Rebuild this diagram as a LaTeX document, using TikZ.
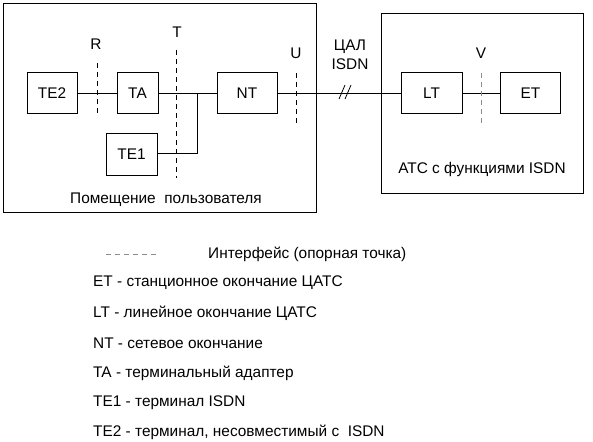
\documentclass[tikz,border=0pt]{standalone}
\usepackage{fontspec}
\setmainfont{Liberation Sans}
\begin{document}
\begin{tikzpicture}[x=1pt,y=-1pt,
  box/.style={draw,line width=0.8pt,minimum width=#1,minimum height=41pt,inner sep=0pt,font=\fontsize{15.4}{18}\selectfont},
  box/.default=50pt,
  area/.style={draw,line width=0.8pt},
  wire/.style={line width=0.8pt},
  ifc/.style={line width=0.8pt,dash pattern=on 5pt off 4pt},
  ifcg/.style={ifc,draw=gray!90},
  lbl/.style={font=\fontsize{15.4}{18}\selectfont,inner sep=0pt},
  leg/.style={lbl,anchor=west}]
\useasboundingbox (0,0) rectangle (593,441);
% enclosures
\draw[area] (3,3) rectangle (316,212);
\draw[area] (381,13) rectangle (583,193);
% boxes
\node[box=50pt] (te2) at (52,93) {TE2};
\node[box=41pt] (ta) at (137.5,93) {TA};
\node[box=60pt] (nt) at (247,93) {NT};
\node[box=51pt,minimum height=42pt] (te1) at (131.5,154) {TE1};
\node[box=61pt] (lt) at (431.5,93) {LT};
\node[box=60pt] (et) at (530.5,93) {ET};
% connectors
\coordinate (j) at (197,93);
\coordinate (jb) at (197,153);
\draw[wire] (te2) -- (ta);
\draw[wire] (ta) -- (nt);
\draw[wire] (te1.east |- jb) -- (jb) -- (j);
\draw[wire] (nt) -- (lt);
\draw[wire] (lt) -- (et);
% slashes on the line
\coordinate (s1) at (342,92);
\coordinate (s2) at (348,92);
\draw[wire] ([shift={(-3,7)}]s1) -- ([shift={(3,-7)}]s1);
\draw[wire] ([shift={(-3,7)}]s2) -- ([shift={(3,-7)}]s2);
% interfaces
\coordinate (r1) at (97,63); \coordinate (r2) at (97,114);
\coordinate (t1) at (176,50); \coordinate (t2) at (176,178);
\coordinate (u1) at (296,73); \coordinate (u2) at (296,124);
\coordinate (v1) at (481,73); \coordinate (v2) at (481,124);
\draw[ifc] (r1) -- (r2);
\draw[ifc] (t1) -- (t2);
\draw[ifc] (u1) -- (u2);
\draw[ifcg] (v1) -- (v2);
\node[lbl] (lr) at (96,44) {R};
\node[lbl] (lt2) at (177,32) {T};
\node[lbl] (lu) at (296,53) {U};
\node[lbl] (lv) at (481,53) {V};
\node[lbl,align=center] (cal) at (350,55) {ЦАЛ\\[1pt]ISDN};
\node[lbl] (ats) at (482,170) {АТС с функциями ISDN};
\node[lbl] (pom) at (166,200) {Помещение\ \ пользователя};
% legend
\coordinate (d1) at (106,254); \coordinate (d2) at (158,254);
\draw[ifcg] (d1) -- (d2);
\node[leg] (l0) at (208,254) {Интерфейс (опорная точка)};
\node[leg] (l1) at (93,283) {ET - станционное окончание ЦАТС};
\node[leg] (l2) at (93,313) {LT - линейное окончание ЦАТС};
\node[leg] (l3) at (93,343) {NT - сетевое окончание};
\node[leg] (l4) at (93,373) {TA - терминальный адаптер};
\node[leg] (l5) at (93,403) {TE1 - терминал ISDN};
\node[leg] (l6) at (93,432) {TE2 - терминал, несовместимый с\ \ ISDN};
\end{tikzpicture}
\end{document}
